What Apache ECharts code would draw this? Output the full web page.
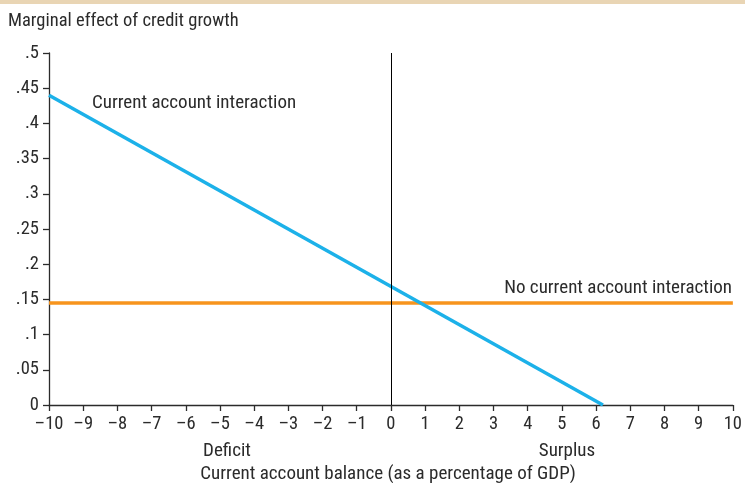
<!DOCTYPE html>
<html><head><meta charset="utf-8">
<script src="https://cdn.jsdelivr.net/npm/echarts@6/dist/echarts.min.js"></script>
<style>html,body{margin:0;padding:0;background:#fff}#c{width:745px;height:483px}</style>
</head><body><div id="c"></div>
<script>
const FONT = '"Roboto Condensed","Liberation Sans Narrow","Arial Narrow",sans-serif';
const withInteraction = [[-10, 0.44], [6.2, 0]];
const noInteraction = [[-10, 0.145], [10, 0.145]];
const xTicks = [-10,-9,-8,-7,-6,-5,-4,-3,-2,-1,0,1,2,3,4,5,6,7,8,9,10];
const yTicks = [0,0.05,0.1,0.15,0.2,0.25,0.3,0.35,0.4,0.45,0.5];
const chart = echarts.init(document.getElementById('c'), null, {renderer:'canvas'});
const txt = '#2b2b2b';
function t(x, y, s, align) {
  return {type:'text', x:x, y:y, style:{text:s, font:'19px '+FONT, fill:txt, textAlign:align, textVerticalAlign:'top'}};
}
chart.setOption({
  animation:false,
  grid:{left:49,right:9,top:53,bottom:78},
  xAxis:{type:'value',min:-10,max:10,interval:1,
    axisLine:{onZero:false,lineStyle:{color:txt,width:1.3}},
    axisTick:{length:6,lineStyle:{color:txt,width:1.3}},
    splitLine:{show:false},
    axisLabel:{color:txt,fontFamily:FONT,fontSize:18.5,margin:10,
      formatter:v=>String(v).replace('-','\u2013')}},
  yAxis:{type:'value',min:0,max:0.5,interval:0.05,
    axisLine:{show:true,onZero:false,lineStyle:{color:txt,width:1.3}},
    axisTick:{show:true,length:6,lineStyle:{color:txt,width:1.3}},
    splitLine:{show:false},
    axisLabel:{color:txt,fontFamily:FONT,fontSize:18.5,margin:10,
      formatter:v=>v===0?'0':String(+v.toFixed(2)).replace(/^0/,'')}},
  graphic:[
    {type:'rect',left:0,top:0,shape:{width:745,height:4},style:{fill:'#e9d5b4'}},
    {type:'text',x:8,y:12,style:{text:'Marginal effect of credit growth',font:'18.5px '+FONT,fill:txt,textVerticalAlign:'top'}},
    t(92,94,'Current account interaction','left'),
    t(732,279,'No current account interaction','right'),
    t(227,442,'Deficit','center'),
    t(567,442,'Surplus','center'),
    t(388,465,'Current account balance (as a percentage of GDP)','center')
  ],
  series:[
    {type:'line',data:noInteraction,symbol:'none',lineStyle:{color:'#f7941d',width:3.5},
     markLine:{symbol:'none',silent:true,label:{show:false},lineStyle:{color:'#000',width:1,type:'solid'},
       data:[[{coord:[0,0]},{coord:[0,0.5]}]]}},
    {type:'line',data:withInteraction,symbol:'none',lineStyle:{color:'#1cb1e9',width:3.5}}
  ]
});
</script></body></html>
